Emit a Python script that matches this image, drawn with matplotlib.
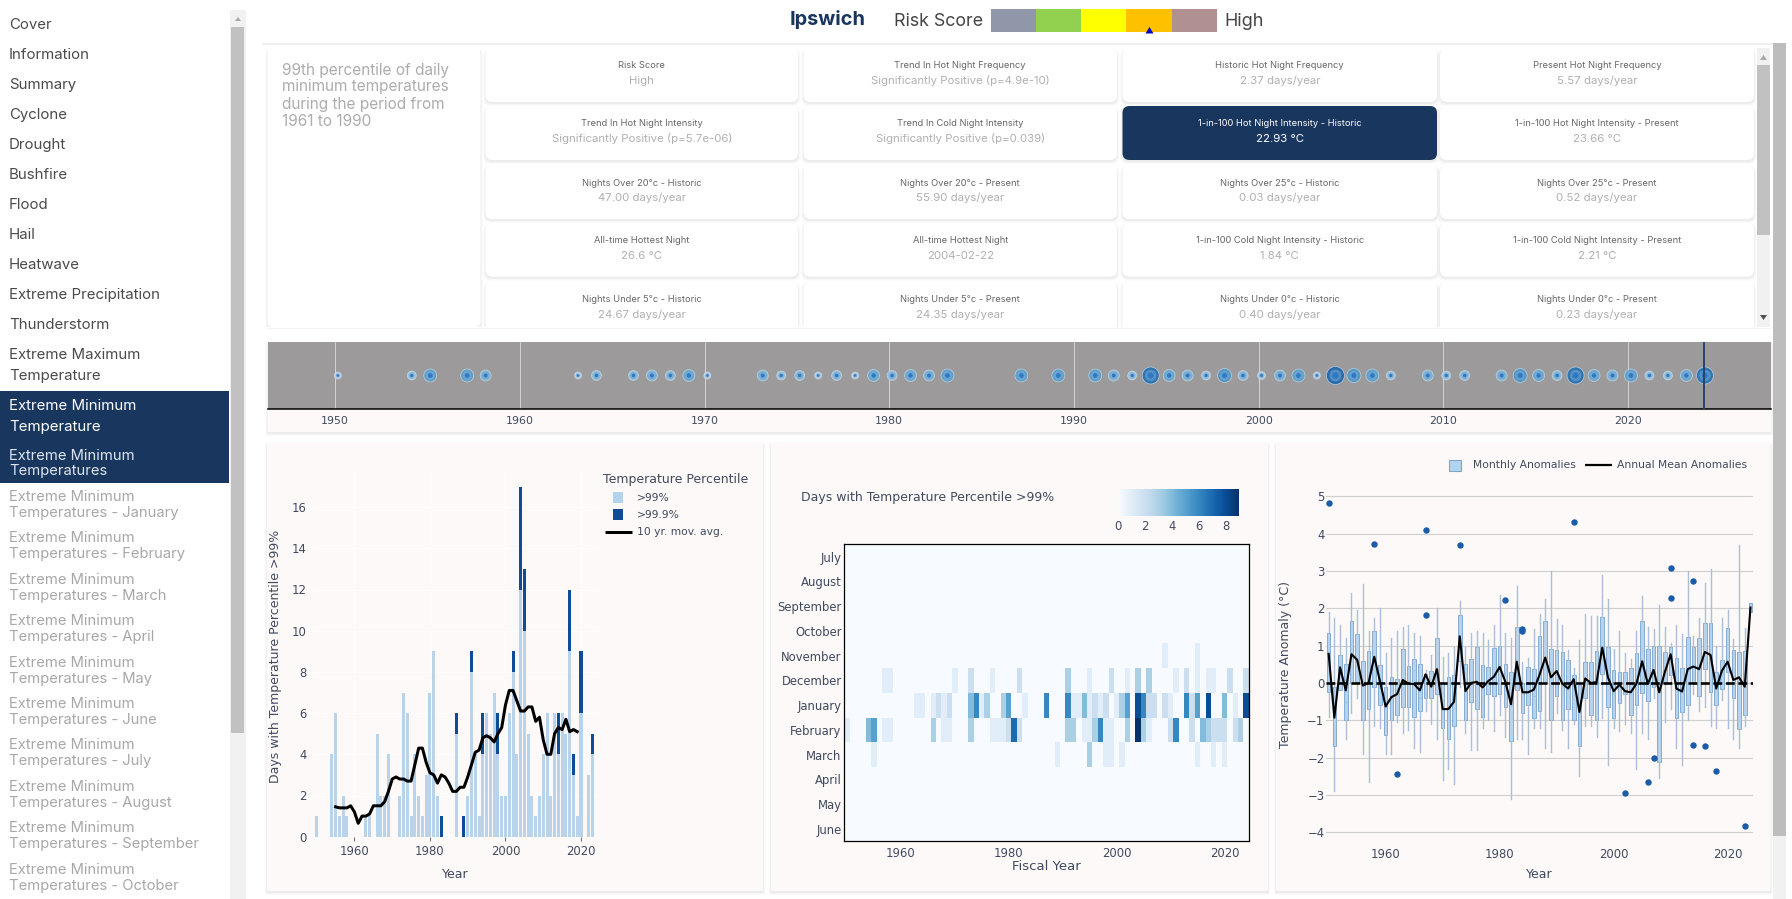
"""Ipswich extreme minimum temperature dashboard, redrawn from a screenshot."""
import numpy as np
import matplotlib
matplotlib.use("Agg")
import matplotlib.pyplot as plt
from matplotlib.patches import FancyBboxPatch, Rectangle, Polygon

W, H = 1792, 899
UI_FONT = ["Inter", "DejaVu Sans"]
PLOT_FONT = ["DejaVu Sans"]
INK = "#3f4a5f"
NAVY = "#19365f"
CARD_PINK = "#fdf9f8"
TICK = 11.6
LEG = 10.8
TITLE = 12.5

# --- sidebar
menu_main = ["Cover", "Information", "Summary", "Cyclone", "Drought", "Bushfire", "Flood",
             "Hail", "Heatwave", "Extreme Precipitation", "Thunderstorm"]
menu_months = ["January", "February", "March", "April", "May", "June", "July", "August",
               "September", "October"]

# --- summary cards, row by row: (label, value)
summary_cards = [
    [("Risk Score", "High"),
     ("Trend In Hot Night Frequency", "Significantly Positive (p=4.9e-10)"),
     ("Historic Hot Night Frequency", "2.37 days/year"),
     ("Present Hot Night Frequency", "5.57 days/year")],
    [("Trend In Hot Night Intensity", "Significantly Positive (p=5.7e-06)"),
     ("Trend In Cold Night Intensity", "Significantly Positive (p=0.039)"),
     ("1-in-100 Hot Night Intensity - Historic", "22.93 °C"),
     ("1-in-100 Hot Night Intensity - Present", "23.66 °C")],
    [("Nights Over 20°c - Historic", "47.00 days/year"),
     ("Nights Over 20°c - Present", "55.90 days/year"),
     ("Nights Over 25°c - Historic", "0.03 days/year"),
     ("Nights Over 25°c - Present", "0.52 days/year")],
    [("All-time Hottest Night", "26.6 °C"),
     ("All-time Hottest Night", "2004-02-22"),
     ("1-in-100 Cold Night Intensity - Historic", "1.84 °C"),
     ("1-in-100 Cold Night Intensity - Present", "2.21 °C")],
    [("Nights Under 5°c - Historic", "24.67 days/year"),
     ("Nights Under 5°c - Present", "24.35 days/year"),
     ("Nights Under 0°c - Historic", "0.40 days/year"),
     ("Nights Under 0°c - Present", "0.23 days/year")],
]
risk_colors = ["#9097a8", "#92d050", "#ffff00", "#ffc000", "#b09090"]

# --- timeline of event years, bubble diameter in screen pixels
timeline_years = [1950, 1954, 1955, 1957, 1958, 1963, 1964, 1966, 1967, 1968, 1969, 1970, 1973,
                  1974, 1975, 1976, 1977, 1978, 1979, 1980, 1981, 1982, 1983, 1987, 1989, 1991,
                  1992, 1993, 1994, 1995, 1996, 1997, 1998, 1999, 2000, 2001, 2002, 2003, 2004,
                  2005, 2006, 2007, 2009, 2010, 2011, 2013, 2014, 2015, 2016, 2017, 2018, 2019,
                  2020, 2021, 2022, 2023, 2024]
timeline_size = [7, 9, 13, 13, 11, 7, 10, 10, 11, 10, 12, 7, 11,
                 9, 10, 7, 10, 7, 12, 10, 12, 11, 13, 13, 13, 13,
                 11, 9, 17, 12, 11, 9, 14, 10, 8, 11, 13, 7, 18,
                 14, 13, 9, 11, 9, 10, 11, 14, 12, 10, 17, 12, 11,
                 13, 9, 9, 12, 17]
timeline_decades = [1950, 1960, 1970, 1980, 1990, 2000, 2010, 2020]

# --- left panel: days per year over the percentiles
bar_years = [1950, 1954, 1955, 1956, 1957, 1958, 1963, 1964, 1966, 1967, 1968, 1969, 1972, 1973,
             1974, 1975, 1976, 1977, 1978, 1979, 1980, 1981, 1982, 1983, 1987, 1989, 1990, 1991,
             1992, 1993, 1994, 1995, 1996, 1997, 1998, 1999, 2000, 2001, 2002, 2003, 2004, 2005,
             2006, 2007, 2008, 2009, 2010, 2011, 2012, 2013, 2014, 2015, 2016, 2017, 2018, 2019,
             2020, 2022, 2023]
days_over_99 = [1, 4, 6, 1, 2, 1, 1, 1, 5, 2, 2, 4, 2, 7,
                6, 1, 4, 2, 1, 3, 7, 9, 2, 0, 5, 0, 2, 8,
                4, 1, 4, 6, 5, 7, 4, 2, 2, 6, 8, 4, 12, 10,
                5, 2, 1, 2, 4, 6, 2, 6, 4, 6, 5, 9, 3, 1,
                6, 3, 4]
days_over_999 = [0, 0, 0, 0, 0, 0, 0, 0, 0, 0, 0, 0, 0, 0,
                 0, 0, 0, 0, 0, 0, 0, 0, 0, 1, 1, 1, 0, 1,
                 0, 0, 2, 0, 0, 0, 2, 0, 0, 0, 1, 0, 5, 3,
                 0, 0, 0, 0, 0, 0, 0, 0, 2, 0, 0, 3, 1, 0,
                 3, 0, 1]
mov_avg_years = list(range(1955, 2020))
mov_avg = [1.45, 1.4, 1.4, 1.4, 1.5, 1.2, 0.65, 1.0, 1.0, 1.1,
           1.5, 1.5, 1.5, 1.7, 2.2, 2.8, 2.9, 2.8, 2.8, 2.7,
           2.7, 3.5, 4.3, 4.3, 3.6, 3.1, 3.0, 2.6, 3.0, 2.9,
           2.6, 2.2, 2.2, 2.4, 2.4, 2.9, 3.5, 4.1, 4.2, 4.8,
           4.9, 4.8, 4.6, 5.0, 5.3, 6.4, 7.1, 7.1, 6.6, 6.1,
           6.1, 6.3, 6.3, 5.6, 5.8, 4.7, 4.0, 4.0, 5.0, 5.3,
           5.2, 5.7, 5.1, 5.2, 5.1]

# --- middle panel: days per month, only non-empty cells listed
heat_months = ["July", "August", "September", "October", "November", "December", "January",
               "February", "March", "April", "May", "June"]
heat_november = {2009: 1, 2015: 1}
heat_december = {1957: 1, 1958: 1, 1970: 1, 1973: 2, 1977: 1, 1982: 2, 1991: 3, 1995: 1, 1999: 2,
                 2002: 1, 2004: 3, 2006: 3, 2011: 1, 2013: 2, 2015: 1, 2017: 1, 2018: 1, 2021: 2,
                 2024: 2}
heat_january = {1963: 1, 1964: 1, 1966: 1, 1967: 2, 1968: 1, 1969: 2, 1973: 4, 1974: 6, 1975: 1,
                1976: 3, 1979: 3, 1980: 5, 1983: 1, 1987: 6, 1991: 6, 1992: 1, 1993: 1, 1994: 4,
                1995: 1, 1996: 2, 1997: 1, 1998: 2, 2000: 1, 2001: 3, 2002: 5, 2004: 8, 2005: 6,
                2006: 2, 2007: 2, 2009: 2, 2010: 1, 2013: 6, 2014: 2, 2015: 5, 2017: 8, 2020: 4,
                2022: 1, 2024: 8}
heat_february = {1950: 1, 1954: 4, 1955: 5, 1957: 1, 1958: 1, 1966: 3, 1968: 1, 1969: 1, 1973: 3,
                 1977: 1, 1978: 1, 1979: 1, 1980: 2, 1981: 7, 1982: 2, 1991: 3, 1992: 3, 1994: 1,
                 1995: 1, 1996: 3, 1997: 6, 1998: 1, 1999: 1, 2002: 3, 2004: 9, 2005: 3, 2006: 1,
                 2010: 2, 2011: 6, 2014: 2, 2016: 4, 2017: 3, 2018: 2, 2019: 2, 2020: 2, 2022: 2,
                 2023: 3}
heat_march = {1955: 1, 1989: 1, 1995: 3, 1998: 1, 1999: 1, 2001: 1, 2015: 1, 2018: 1, 2020: 1}
heat_ticks = [1960, 1980, 2000, 2020]

# --- right panel: monthly anomaly boxes per year
box_years = list(range(1950, 2025))
box_low = [-0.9, -2.9, -0.2, -1.5, -0.8, -0.4, -1.9, -2.65, -1.15, -1.2,
           -1.9, -1.9, -1.05, -1.35, -1.25, -1.75, -1.85, -0.75, -1.1, -1.5,
           -2.6, -2.3, -2.7, -0.1, -1.35, -1.8, -1.8, -1.2, -1.0, -1.3,
           -0.85, -1.45, -3.1, -1.5, -1.5, -1.9, -1.2, -1.2, -1.75, -1.85,
           -0.8, -1.25, -1.75, -1.1, -2.5, -1.15, -1.15, -1.45, -0.95, -2.2,
           -1.2, -1.3, -1.1, -1.35, -2.3, -1.35, -1.5, -0.4, -2.55, -1.05,
           -0.7, -1.75, -2.2, -1.0, -0.3, -0.75, -0.65, -1.15, -1.2, -0.45,
           -1.2, -1.5, -1.75, -1.15, 1.9]
box_q1 = [-0.25, -1.7, -0.2, -1.0, 0.0, 0.0, -1.0, -0.7, -0.1, -0.6,
          -1.4, -1.0, -0.85, -0.65, -0.65, -0.9, -0.75, -0.4, -0.4, -0.3,
          -1.2, -1.5, -1.15, 0.6, -1.0, -0.5, -0.7, -0.9, -0.3, -0.35,
          -0.3, -0.65, -1.55, -0.2, -0.8, -0.6, -0.95, -0.75, 0.0, -1.0,
          -0.35, -1.0, -0.7, -1.0, -1.68, -0.4, -0.85, -1.0, 0.25, -0.65,
          -0.95, -0.55, -0.3, -0.85, -0.6, -0.28, -0.48, -0.1, -2.13, 0.0,
          0.22, -0.95, -0.78, -0.6, 0.0, -0.35, 0.38, -0.25, -0.6, -0.15,
          0.3, -0.4, -1.23, -0.87, 1.9]
box_med = [0.8, -0.9, 0.4, -0.5, 0.7, 0.6, 0.0, 0.3, 0.7, 0.0,
           -0.6, -0.4, -0.3, 0.1, 0.0, 0.35, -0.4, -0.3, 0.0, 0.3,
           -0.7, -0.7, -0.5, 1.2, -0.2, 0.0, 0.0, -0.1, 0.0, 0.15,
           0.4, 0.0, -0.6, 0.6, -0.25, -0.25, -0.35, 0.2, 0.65, 0.15,
           0.3, 0.0, -0.15, 0.1, -0.8, 0.1, -0.1, 0.0, 0.95, 0.2,
           -0.25, -0.05, -0.25, -0.25, 0.0, 0.55, 0.0, 0.35, -0.25, 0.4,
           0.75, -0.15, -0.25, 0.35, 0.45, 0.35, 0.8, 0.75, -0.15, 0.3,
           0.55, 0.1, 0.15, -0.1, 2.0]
box_q3 = [1.35, -0.1, 0.75, 0.5, 1.65, 1.3, 0.6, 0.85, 1.4, 0.47,
          -0.1, 0.15, 0.1, 0.9, 0.45, 0.65, 0.5, 0.25, 0.33, 1.2,
          0.0, 0.15, 0.2, 1.82, 0.5, 0.63, 0.95, 0.47, 0.43, 0.93,
          1.0, 0.5, 0.3, 1.5, 0.0, 0.43, 0.37, 1.25, 1.65, 0.9,
          0.87, 0.82, 0.62, 0.2, -0.05, 0.55, 0.57, 0.85, 1.77, 0.97,
          0.35, 0.3, 0.3, 0.4, 0.8, 1.67, 0.9, 1.0, 1.0, 0.82,
          0.97, 0.68, 0.4, 1.23, 0.97, 1.2, 1.6, 1.6, 0.28, 0.62,
          1.47, 0.88, 0.83, 0.85, 2.15]
box_high = [1.9, 1.75, 1.55, 1.2, 2.4, 1.95, 2.65, 1.4, 1.75, 2.0,
            0.8, 1.2, 1.4, 1.5, 1.55, 1.35, 1.25, 0.35, 0.75, 2.0,
            0.7, 0.8, 0.95, 2.2, 0.95, 1.35, 1.4, 1.35, 1.15, 1.55,
            2.35, 1.35, 1.2, 2.6, 0.55, 0.68, 1.45, 1.85, 2.25, 3.0,
            1.7, 1.55, 0.87, 0.4, 1.15, 1.85, 1.8, 1.8, 2.9, 2.25,
            0.92, 1.4, 0.8, 0.65, 1.4, 2.33, 1.5, 1.45, 2.1, 1.5,
            1.07, 1.55, 1.3, 3.0, 1.25, 1.75, 2.68, 3.05, 1.0, 1.73,
            1.95, 1.17, 3.7, 1.48, 2.15]
outlier_years = [1950, 1958, 1962, 1967, 1967, 1973, 1981, 1984, 1984, 1993, 2002, 2006, 2007,
                 2010, 2010, 2014, 2014, 2016, 2018, 2023]
outlier_values = [4.83, 3.73, -2.44, 4.1, 1.81, 3.69, 2.21, 1.45, 1.39, 4.31, -2.94, -2.66, -2.02,
                  3.08, 2.28, 2.73, -1.65, -1.7, -2.37, -3.82]
annual_mean = [0.78, -0.93, 0.42, -0.2, 0.77, 0.62, -0.07, 0.0, 0.7, 0.05,
               -0.63, -0.38, -0.3, 0.08, -0.02, -0.03, -0.2, 0.23, -0.1, 0.37,
               -0.7, -0.7, -0.5, 1.25, -0.22, 0.0, 0.03, -0.12, 0.05, 0.17,
               0.43, 0.03, -0.57, 0.57, -0.25, -0.25, -0.18, 0.22, 0.68, 0.15,
               0.32, -0.02, -0.15, 0.1, -0.78, 0.12, 0.0, 0.02, 0.95, 0.15,
               -0.22, -0.05, -0.22, -0.25, -0.02, 0.58, -0.03, 0.35, -0.25, 0.3,
               0.77, -0.15, -0.23, 0.37, 0.44, 0.37, 0.83, 0.75, -0.15, 0.33,
               0.57, 0.08, 0.15, -0.1, 2.02]


def px(n):
    # css pixels to points at dpi 100
    return n * 0.72


fig = plt.figure(figsize=(W / 100, H / 100), dpi=100, facecolor="white")
bg = fig.add_axes([0, 0, 1, 1], zorder=0)
bg.set_xlim(0, W); bg.set_ylim(H, 0); bg.axis("off")


def px_axes(x0, y0, x1, y1, zorder=2):
    ax = fig.add_axes([x0 / W, 1 - y1 / H, (x1 - x0) / W, (y1 - y0) / H], zorder=zorder)
    ax.patch.set_alpha(0)
    return ax


def text(x, y, s, size, color=INK, ha="left", va="center", family=UI_FONT, **kw):
    bg.text(x, y, s, fontsize=px(size), color=color, ha=ha, va=va, family=family, **kw)


def rect(x0, y0, x1, y1, color, **kw):
    bg.add_patch(Rectangle((x0, y0), x1 - x0, y1 - y0, facecolor=color, edgecolor="none", **kw))


def card(x0, y0, x1, y1, fc="white", r=5):
    # soft drop shadow first
    for grow, alpha in [(3, 0.015), (2, 0.025), (1, 0.035)]:
        bg.add_patch(FancyBboxPatch((x0 - grow + 0.5, y0 + 1), x1 - x0 + 2 * grow - 1, y1 - y0 + grow,
                                    boxstyle=f"round,pad=0,rounding_size={r}", fc="#000000", ec="none",
                                    alpha=alpha))
    bg.add_patch(FancyBboxPatch((x0, y0), x1 - x0, y1 - y0, boxstyle=f"round,pad=0,rounding_size={r}",
                                fc=fc, ec="none"))


# sidebar
for i, name in enumerate(menu_main):
    text(9, 25 + 30 * i, name, 15, "#4a4a4a")
text(9, 355, "Extreme Maximum", 15, "#4a4a4a")
text(9, 376, "Temperature", 15, "#4a4a4a")
rect(0, 391, 229, 483, NAVY)
text(9, 406, "Extreme Minimum", 15, "white")
text(9, 427, "Temperature", 15, "white")
text(9, 456, "Extreme Minimum", 14.8, "#dfe5ee")
text(9, 471, "Temperatures", 14.8, "#dfe5ee")
for i, month in enumerate(menu_months):
    y0 = 497 + 41.4 * i
    text(9, y0, "Extreme Minimum", 14.8, "#a8a8a8")
    text(9, y0 + 16, "Temperatures - " + month, 14.8, "#a8a8a8")
rect(230, 10, 246, H, "#f1f1f1")
rect(231, 27, 244, 733, "#c1c1c1")
bg.add_patch(Polygon([[235, 21], [241, 21], [238, 17]], fc="#a8a8a8", ec="none"))

# page scrollbar
rect(1773, 43, 1786, H, "#f1f1f1")
rect(1773, 43, 1786, 836, "#bdbdbd")

# header
rect(262, 0, 1773, 43, "white")
rect(262, 43, 1773, 45, "#f0f0f0")
text(828, 19.5, "Ipswich", 20, NAVY, ha="center", weight="bold")
text(894, 21, "Risk Score", 17.8, "#444444")
edges = [991, 1036, 1081, 1126.3, 1171.6, 1217]
for i, col in enumerate(risk_colors):
    rect(edges[i], 9, edges[i + 1], 32, col)
bg.add_patch(Polygon([[1145.5, 33.5], [1153.5, 33.5], [1149.5, 27]], fc="#0000cc", ec="none"))
text(1224, 21, "High", 18, "#444444")

# summary block
card(267.5, 48, 480.5, 327)
for i, line in enumerate(["99th percentile of daily", "minimum temperatures",
                          "during the period from", "1961 to 1990"]):
    text(281.5, 70 + 17 * i, line, 15.4, "#adadad")

col_edges = [(485.5, 798), (803.5, 1117), (1122.5, 1437), (1440, 1754)]
row_edges = [(48, 102), (106, 160), (165, 219), (222.7, 276.7), (281.7, 335)]
label_y = [66, 124, 183, 240.7, 300]
value_y = [81, 139, 198, 256, 315]
for r, row in enumerate(summary_cards):
    for c, (label, value) in enumerate(row):
        x0, x1 = col_edges[c]
        y0, y1 = row_edges[r]
        chosen = (r == 1 and c == 2)
        card(x0, y0, x1, y1, fc=NAVY if chosen else "white", r=7)
        xc = (x0 + x1) / 2
        text(xc, label_y[r], label, 9.3, "white" if chosen else "#666666", ha="center")
        text(xc, value_y[r], value, 11.4, "white" if chosen else "#b0b0b0", ha="center")
rect(262, 327, 1773, 341, "white")
rect(267, 327.5, 1771, 329, "#f2f2f2")
rect(1757, 48, 1770, 327, "#f1f1f1")
rect(1757, 65, 1770, 235, "#c1c1c1")
bg.add_patch(Polygon([[1760, 60], [1767, 60], [1763.5, 55]], fc="#a8a8a8", ec="none"))
bg.add_patch(Polygon([[1760, 315], [1767, 315], [1763.5, 320]], fc="#505050", ec="none"))

# timeline strip
card(267.5, 342, 1771, 432, fc=CARD_PINK, r=1)
tl = px_axes(267.5, 341.7, 1771, 409.3)
tl.patch.set_alpha(1); tl.set_facecolor("#9c9a9a")
tl.set_xlim(1946.34, 2027.73); tl.set_ylim(-1, 1)
tl.set_yticks([]); tl.set_xticks(timeline_decades)
tl.tick_params(axis="x", length=0, pad=5, labelsize=px(TICK - 0.6), labelcolor=INK)
tl.grid(axis="x", color="#d4d4d4", lw=0.7)
tl.set_axisbelow(True)
for side in ["top", "left", "right"]:
    tl.spines[side].set_visible(False)
tl.spines["bottom"].set_color("black"); tl.spines["bottom"].set_linewidth(1.1)
tl_x = np.array(timeline_years) + 0.15
tl_d = np.array(timeline_size, dtype=float)
tone = plt.get_cmap("Blues")((tl_d - 7) / 11 * 0.55 + 0.25)
zero = np.zeros_like(tl_x)
tl.scatter(tl_x, zero, s=px(tl_d) ** 2, c=tone, edgecolors="#c7d9ea", linewidths=0.5, alpha=0.85, zorder=3)
tl.scatter(tl_x, zero, s=px(tl_d * 0.66) ** 2, c="#6fa5d8", alpha=0.6, linewidths=0, zorder=4)
tl.scatter(tl_x, zero, s=px(tl_d * 0.36) ** 2, c="#2f79c4", linewidths=0, zorder=5)
tl.axvline(2024.1, color="#25426e", lw=1.4, zorder=6)

# left panel
card(267, 442, 763, 891, fc=CARD_PINK, r=2)
a1 = px_axes(314.8, 470, 598, 836.7)
a1.bar(bar_years, days_over_99, width=0.8, color="#b9d4ea", linewidth=0, zorder=2)
a1.bar(bar_years, days_over_999, width=0.8, bottom=days_over_99, color="#0f4c97", linewidth=0, zorder=2)
a1.plot(mov_avg_years, mov_avg, color="black", lw=px(3), zorder=3)
a1.set_xlim(1949.5, 2024.5)
a1.set_ylim(0, 366.7 / 20.6)
a1.set_xticks([1960, 1980, 2000, 2020])
a1.set_yticks(range(0, 17, 2))
a1.tick_params(axis="x", length=3, width=0.6, color="#555555", pad=3, labelsize=px(TICK), labelcolor=INK)
a1.tick_params(axis="y", length=0, pad=6, labelsize=px(TICK), labelcolor=INK)
a1.grid(color="#fefcfc", lw=0.8)
a1.set_axisbelow(True)
for side in a1.spines:
    a1.spines[side].set_visible(False)
text(275.5, 656, "Days with Temperature Percentile >99%", TITLE, ha="center", rotation=90, family=PLOT_FONT)
text(455, 874, "Year", TITLE, ha="center", family=PLOT_FONT)
text(602.7, 479, "Temperature Percentile", TITLE, family=PLOT_FONT)
rect(612.7, 492, 623.3, 503, "#b3d3ec")
rect(612.7, 509, 623.3, 520, "#0f4c97")
text(637, 498, ">99%", LEG, family=PLOT_FONT)
text(637, 515, ">99.9%", LEG, family=PLOT_FONT)
bg.plot([605, 632], [531.7, 531.7], color="black", lw=px(3), solid_capstyle="butt")
text(637, 532, "10 yr. mov. avg.", LEG, family=PLOT_FONT)

# middle panel
card(771, 442, 1268, 891, fc=CARD_PINK, r=2)
a2 = px_axes(844.3, 544.3, 1248.7, 841.3)
heat_years = list(range(1950, 2025))
heat_days = np.zeros((len(heat_months), len(heat_years)))
for month, cells in [("November", heat_november), ("December", heat_december), ("January", heat_january),
                     ("February", heat_february), ("March", heat_march)]:
    for yr, days in cells.items():
        heat_days[heat_months.index(month), heat_years.index(yr)] = days
edges_x = np.arange(1949.5, 2025.5)
edges_y = np.arange(-0.5, 12.5)
mesh = a2.pcolormesh(edges_x, edges_y, heat_days, cmap="Blues", vmin=0, vmax=9)
a2.set_ylim(11.5, -0.5)
a2.set_xticks(heat_ticks)
a2.set_yticks(range(12)); a2.set_yticklabels(heat_months)
a2.tick_params(axis="both", length=0, labelsize=px(TICK), labelcolor=INK)
a2.tick_params(axis="x", pad=4)
a2.tick_params(axis="y", pad=2)
for side in a2.spines:
    a2.spines[side].set_linewidth(0.9); a2.spines[side].set_color("black")
text(800.7, 497, "Days with Temperature Percentile >99%", TITLE, family=PLOT_FONT)
text(1046.7, 866, "Fiscal Year", 13.2, ha="center", family=PLOT_FONT)
cax = px_axes(1118.3, 489.3, 1239, 516)
cb = fig.colorbar(mesh, cax=cax, orientation="horizontal")
cb.set_ticks([0, 2, 4, 6, 8])
cb.outline.set_visible(False)
cax.tick_params(length=0, pad=3, labelsize=px(TICK), labelcolor=INK)

# right panel
card(1276, 442, 1770.7, 891, fc=CARD_PINK, r=2)
a3 = px_axes(1325.8, 488, 1753.3, 840)
box_stats = [dict(med=box_med[i], q1=box_q1[i], q3=box_q3[i], whislo=box_low[i], whishi=box_high[i], fliers=[])
             for i in range(len(box_years))]
a3.bxp(box_stats, positions=box_years, widths=0.62, patch_artist=True, showcaps=False, showfliers=False,
       manage_ticks=False,
       boxprops=dict(facecolor="#b5d3ec", edgecolor="#86acd0", linewidth=0.7),
       whiskerprops=dict(color="#abc0d8", linewidth=1.0),
       medianprops=dict(color="#a3c2de", linewidth=0.6), zorder=2)
a3.scatter(outlier_years, outlier_values, s=px(6.4) ** 2, color="#1a5ca8", linewidths=0, zorder=3)
a3.axhline(0, color="black", lw=px(2.6), dashes=(3.4, 1.4), zorder=3)
a3.plot(box_years, annual_mean, color="black", lw=px(2.1), zorder=4)
a3.set_xlim(1949.5, 2024.5)
a3.set_ylim(-(840 - 496.3 - 5 * 37.33) / 37.33, 5 + (496.3 - 488) / 37.33)
a3.set_xticks([1960, 1980, 2000, 2020])
a3.set_yticks(range(-4, 6))
a3.tick_params(axis="both", length=0, labelsize=px(TICK), labelcolor=INK)
a3.tick_params(axis="x", pad=6)
a3.tick_params(axis="y", pad=1)
a3.grid(axis="y", color="#cfcfcf", lw=0.8)
a3.set_axisbelow(True)
for side in a3.spines:
    a3.spines[side].set_visible(False)
text(1285, 664, "Temperature Anomaly (°C)", TITLE, ha="center", rotation=90, family=PLOT_FONT)
text(1539.3, 874, "Year", TITLE, ha="center", family=PLOT_FONT)
bg.add_patch(Rectangle((1449, 459.5), 11.5, 11.5, fc="#b5d3ec", ec="#7ea6cc", lw=0.8))
text(1473.3, 465, "Monthly Anomalies", LEG, family=PLOT_FONT)
bg.plot([1585, 1611.7], [465, 465], color="black", lw=px(2.2), solid_capstyle="butt")
text(1617.3, 465, "Annual Mean Anomalies", LEG, family=PLOT_FONT)

fig.savefig("out.png", dpi=100, facecolor="white")
